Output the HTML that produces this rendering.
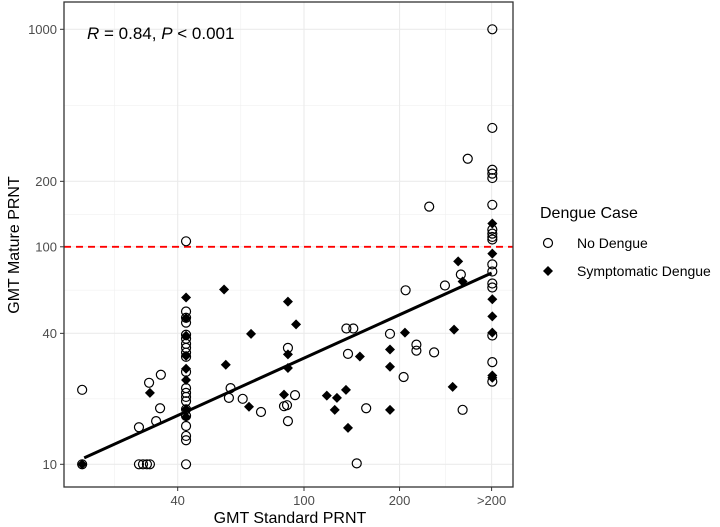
<!DOCTYPE html>
<html><head><meta charset="utf-8"><style>
body{margin:0;background:#fff;}
svg{display:block;font-family:"Liberation Sans",Arial,sans-serif;}
</style></head><body>
<svg id="chart" width="720" height="527" viewBox="0 0 720 527">
<g id="grid"></g>
<g id="marks"></g>
<g id="axes"></g>
<text x="87" y="39" font-size="17" fill="#000"><tspan font-style="italic">R</tspan> = 0.84, <tspan font-style="italic">P</tspan> &lt; 0.001</text>
<text x="290" y="523" font-size="16" text-anchor="middle" fill="#000">GMT Standard PRNT</text>
<text transform="translate(19,245) rotate(-90)" font-size="16" text-anchor="middle" fill="#000">GMT Mature PRNT</text>
<g>
<text x="540" y="218" font-size="16" fill="#000">Dengue Case</text>
<g><circle cx="548" cy="243" r="4.5" fill="#fff" stroke="#000" stroke-width="1.2"/><text x="577" y="248" font-size="14" fill="#000">No Dengue</text></g>
<g><path d="M548,266 L553,271 L548,276 L543,271 Z" fill="#000"/><text x="577" y="276" font-size="14" fill="#000">Symptomatic Dengue</text></g>
</g>
</svg>
<script>
const xTickValues=[40,100,200,390];
const xTickLabels=["40","100","200",">200"];
const xMinorValues=[25.3,63.2,279];
const yTickValues=[10,40,100,200,1000];
const yTickLabels=["10","40","100","200","1000"];
const yMinorValues=[20,63.2,141,447];
const noDengueX=[20,20,30.2,31.1,32,32.7,32.5,35.4,35.2,34.2,30.2,
42.5,42.5,42.5,42.5,42.5,42.5,42.5,42.5,42.5,42.5,42.5,42.5,42.5,42.5,42.5,42.5,42.5,42.5,42.5,42.5,42.5,
58.7,58,64.1,73.2,89,88.4,86.5,89,93.7,
136,143,137.6,186.6,209,278,312,226,226,257,206,157,316,146.6,328,248,
392,392,392,392,392,392,392,392,392,392,392,392,392,392,392,392,392];
const noDengueY=[22,10,10,10,10,10,23.7,25.8,18.1,15.8,14.8,
106,50.4,47.2,44.8,39.4,37.8,35.8,34.3,32.6,31.2,26.6,22.4,21.3,20.4,19.5,17.9,16.7,15,13.5,12.9,10,
22.4,20.2,20,17.4,34.3,18.7,18.5,15.8,20.8,
42.1,42.1,32.2,39.8,63.1,66.4,74.6,35.5,33.3,32.7,25.2,18.1,17.8,10.1,254,153,
1000,352,226,217,207,156,120,111,115,108,83,77,67.8,65,39.1,29.5,24];
const symptomaticX=[20,32.7,42.5,42.5,42.5,42.5,42.5,42.5,42.5,42.5,
56,68.1,56.7,67.1,89,89,89,86.5,94.4,306,316,208,297,186.6,186.6,150,118,127,135.6,125,137.6,186.6,294,
392,392,392,392,392,392,392];
const symptomaticY=[10,21.3,58.5,47,39,31.5,27.5,24.4,17.9,16.5,
63.6,39.8,28.7,18.4,56,32,27.7,20.9,44,85.7,69.3,40.3,41.6,33.7,28.1,31.3,20.7,20.2,22,17.8,14.7,17.8,22.7,
128,93,57.4,47.9,40.3,25.6,25];
const fitX=[20.3,390];
const fitY=[10.7,75.8];
const refLineY=[100];

const L=64,R=513,T=2,B=487;
const xs=v=>304+317.4*Math.log10(v/100);
const ys=v=>464.3-217.5*Math.log10(v/10);
const NS="http://www.w3.org/2000/svg";
function mk(tag,attrs,parent){const e=document.createElementNS(NS,tag);for(const k in attrs)e.setAttribute(k,attrs[k]);parent.appendChild(e);return e;}
const grid=document.getElementById('grid'),marks=document.getElementById('marks'),axes=document.getElementById('axes');
mk('rect',{x:L,y:T,width:R-L,height:B-T,fill:'#fff'},grid);
xMinorValues.forEach(v=>{const l=mk('line',{x1:xs(v),x2:xs(v),y1:T,y2:B,stroke:'#f0f0f0','stroke-width':0.6},grid);

});
yMinorValues.forEach(v=>{const l=mk('line',{x1:L,x2:R,y1:ys(v),y2:ys(v),stroke:'#f0f0f0','stroke-width':0.6},grid);

});
xTickValues.forEach((v,i)=>{const x=xs(v);
const l=mk('line',{x1:x,x2:x,y1:T,y2:B,stroke:'#ebebeb','stroke-width':1.1},grid);


mk('line',{x1:x,x2:x,y1:B,y2:B+4,stroke:'#333','stroke-width':1},axes);
const t=mk('text',{x:x,y:B+18,'font-size':13,fill:'#4d4d4d','text-anchor':'middle'},axes);t.textContent=xTickLabels[i];

});
yTickValues.forEach((v,i)=>{const y=ys(v);
const l=mk('line',{x1:L,x2:R,y1:y,y2:y,stroke:'#ebebeb','stroke-width':1.1},grid);


mk('line',{x1:L-4,x2:L,y1:y,y2:y,stroke:'#333','stroke-width':1},axes);
const t=mk('text',{x:L-7,y:y+4.5,'font-size':13,fill:'#4d4d4d','text-anchor':'end'},axes);t.textContent=yTickLabels[i];

});
refLineY.forEach(v=>{const l=mk('line',{x1:L,x2:R,y1:ys(v),y2:ys(v),stroke:'#ff0000','stroke-width':1.8,'stroke-dasharray':'7,5'},marks);

});
noDengueX.forEach((v,i)=>{const c=mk('circle',{cx:xs(v),cy:ys(noDengueY[i]),r:4.5,fill:'none',stroke:'#000','stroke-width':1.2},marks);

});
symptomaticX.forEach((v,i)=>{const x=xs(v),y=ys(symptomaticY[i]);
const p=mk('path',{d:`M${x},${y-5}L${x+5},${y}L${x},${y+5}L${x-5},${y}Z`,fill:'#000'},marks);

});
const fl=mk('line',{x1:xs(fitX[0]),y1:ys(fitY[0]),x2:xs(fitX[1]),y2:ys(fitY[1]),stroke:'#000','stroke-width':3},marks);


const border=mk('rect',{x:L,y:T,width:R-L,height:B-T,fill:'none',stroke:'#333','stroke-width':1.3},axes);


</script>
</body></html>
